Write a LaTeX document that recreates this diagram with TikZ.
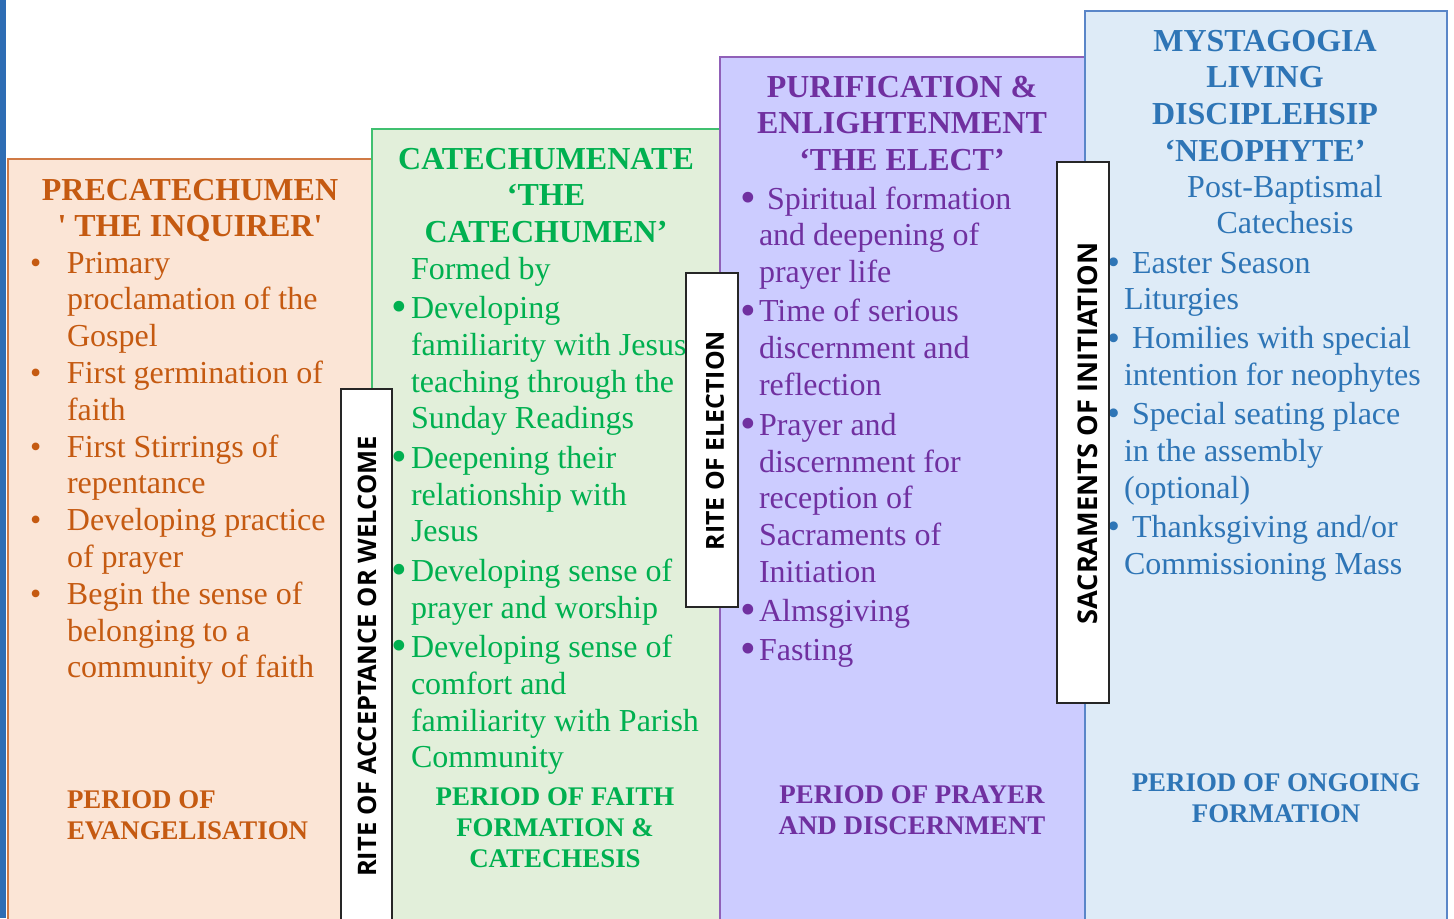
\documentclass[tikz,border=0pt]{standalone}
\usepackage{fontspec}
\usepackage{graphicx}
\setmainfont{Liberation Serif}[Ligatures=TeXOff]
\newfontfamily\labfont{Open Sans}
\definecolor{orT}{HTML}{C55A11}
\definecolor{orF}{HTML}{FBE5D6}
\definecolor{orB}{HTML}{D07A45}
\definecolor{grT}{HTML}{00B050}
\definecolor{grF}{HTML}{E2EFDA}
\definecolor{grB}{HTML}{40C070}
\definecolor{puT}{HTML}{7030A0}
\definecolor{puF}{HTML}{CCCCFF}
\definecolor{puB}{HTML}{9060B8}
\definecolor{blT}{HTML}{2E75B6}
\definecolor{blF}{HTML}{DEEBF7}
\definecolor{blB}{HTML}{5A86C8}
\definecolor{barC}{HTML}{2E6DB4}
\newcommand\bigbul{\raisebox{-1.7pt}{\scalebox{1.4}{\textbullet}}}
\newcommand\ob{\makebox[18.5pt][l]{\textbullet}}
\newcommand\gb{\makebox[10pt][l]{\bigbul}}
\newcommand\pb{\makebox[9.5pt][l]{\bigbul}}
\newcommand\bb{\llap{\raisebox{-0.6pt}{\scalebox{1.15}{\textbullet}}\hspace{2pt}}\hspace{4pt}}
\tikzset{
  colbox/.style={line width=0.75pt},
  bodytext/.style={anchor=base west, inner sep=0pt, outer sep=0pt, font=\fontsize{16}{18.4}\selectfont},
  headtext/.style={anchor=base, inner sep=0pt, outer sep=0pt, font=\fontsize{16}{18.4}\selectfont\bfseries},
  periodtext/.style={anchor=base, inner sep=0pt, outer sep=0pt, font=\fontsize{13.45}{15.5}\selectfont\bfseries},
  labelbox/.style={draw=black!85, fill=white, line width=0.8pt},
  vlabel/.style={rotate=90, inner sep=0pt, outer sep=0pt, font=\labfont\bfseries\fontsize{12.75}{14}\selectfont},
}
\begin{document}
\begin{tikzpicture}[x=0.5pt,y=-0.5pt]
\useasboundingbox (0,0) rectangle (1454,918);
\fill[white] (0,0) rectangle (1454,918);
\fill[barC] (0,0) rectangle (6,918);
% column boxes
\draw[colbox, draw=orB, fill=orF] (8,159) rectangle (380,925);
\draw[colbox, draw=grB, fill=grF] (372,129) rectangle (720,925);
\draw[colbox, draw=puB, fill=puF] (720,57) rectangle (1085,925);
\draw[colbox, draw=blB, fill=blF] (1085,11) rectangle (1447,925);
% headings
\node[headtext, text=orT] (orhead) at (190,200) {\begin{tabular}[t]{@{}c@{}}PRECATECHUMEN\\' THE INQUIRER'\end{tabular}};
\node[headtext, text=grT] (grhead) at (546,169) {\begin{tabular}[t]{@{}c@{}}CATECHUMENATE\\‘THE\\CATECHUMEN’\end{tabular}};
\node[headtext, text=puT] (puhead) at (902,97) {\begin{tabular}[t]{@{}c@{}}PURIFICATION \&\\ENLIGHTENMENT\\‘THE ELECT’\end{tabular}};
\node[headtext, text=blT] (blhead) at (1265,51) {\begin{tabular}[t]{@{}c@{}}MYSTAGOGIA\\LIVING\\DISCIPLEHSIP\\‘NEOPHYTE’\end{tabular}};
\node[headtext, text=blT, font=\fontsize{16}{18.4}\selectfont] (blsub) at (1285,197) {\begin{tabular}[t]{@{}c@{}}Post-Baptismal\\Catechesis\end{tabular}};
% bodies
\node[bodytext, text=orT] (orbody) at (30,273) {\begin{tabular}[t]{@{}l@{}l@{}}
\ob & Primary\\ & proclamation of the\\ & Gospel\\
\ob & First germination of\\ & faith\\
\ob & First Stirrings of\\ & repentance\\
\ob & Developing practice\\ & of prayer\\
\ob & Begin the sense of\\ & belonging to a\\ & community of faith
\end{tabular}};
\node[bodytext, text=grT] (grbody) at (391,279) {\begin{tabular}[t]{@{}l@{}l@{}}
 & Formed by\\[1.3pt]
\gb & Developing\\ & familiarity with Jesus\\ & teaching through the\\ & Sunday Readings\\[1.3pt]
\gb & Deepening their\\ & relationship with\\ & Jesus\\[1.3pt]
\gb & Developing sense of\\ & prayer and worship\\[1.3pt]
\gb & Developing sense of\\ & comfort and\\ & familiarity with Parish\\ & Community
\end{tabular}};
\node[bodytext, text=puT] (pubody) at (740,209) {\begin{tabular}[t]{@{}l@{}l@{}}
\pb & \hspace{4pt}Spiritual formation\\ & and deepening of\\ & prayer life\\[1.1pt]
\pb & Time of serious\\ & discernment and\\ & reflection\\[1.6pt]
\pb & Prayer and\\ & discernment for\\ & reception of\\ & Sacraments of\\ & Initiation\\[1.1pt]
\pb & Almsgiving\\[1.1pt]
\pb & Fasting
\end{tabular}};
\node[bodytext, text=blT] (blbody) at (1124,273) {\begin{tabular}[t]{@{}l@{}}
\bb Easter Season\\ Liturgies\\[1.1pt]
\bb Homilies with special\\ intention for neophytes\\[1.1pt]
\bb Special seating place\\ in the assembly\\ (optional)\\[1.1pt]
\bb Thanksgiving and/or\\ Commissioning Mass
\end{tabular}};
% period labels
\node[periodtext, text=orT, anchor=base west] (orper) at (67,808) {\begin{tabular}[t]{@{}l@{}}PERIOD OF\\EVANGELISATION\end{tabular}};
\node[periodtext, text=grT] (grper) at (555,805) {\begin{tabular}[t]{@{}c@{}}PERIOD OF FAITH\\FORMATION \&\\CATECHESIS\end{tabular}};
\node[periodtext, text=puT] (puper) at (912,803) {\begin{tabular}[t]{@{}c@{}}PERIOD OF PRAYER\\AND DISCERNMENT\end{tabular}};
\node[periodtext, text=blT] (blper) at (1276,791) {\begin{tabular}[t]{@{}c@{}}PERIOD OF ONGOING\\FORMATION\end{tabular}};
% rite label boxes
\draw[labelbox] (341,389) rectangle (392,925);
\node[vlabel] (rite1) at (367.5,656.5) {RITE OF ACCEPTANCE OR WELCOME};
\draw[labelbox] (686,273) rectangle (738,607);
\node[vlabel, font=\labfont\bfseries\fontsize{12.4}{14}\selectfont] (rite2) at (715,440.5) {RITE OF ELECTION};
\draw[labelbox] (1057,162) rectangle (1109,703);
\node[vlabel, font=\labfont\bfseries\fontsize{13.6}{15}\selectfont] (rite3) at (1087.5,433.5) {SACRAMENTS OF INITIATION};
\end{tikzpicture}
\end{document}
